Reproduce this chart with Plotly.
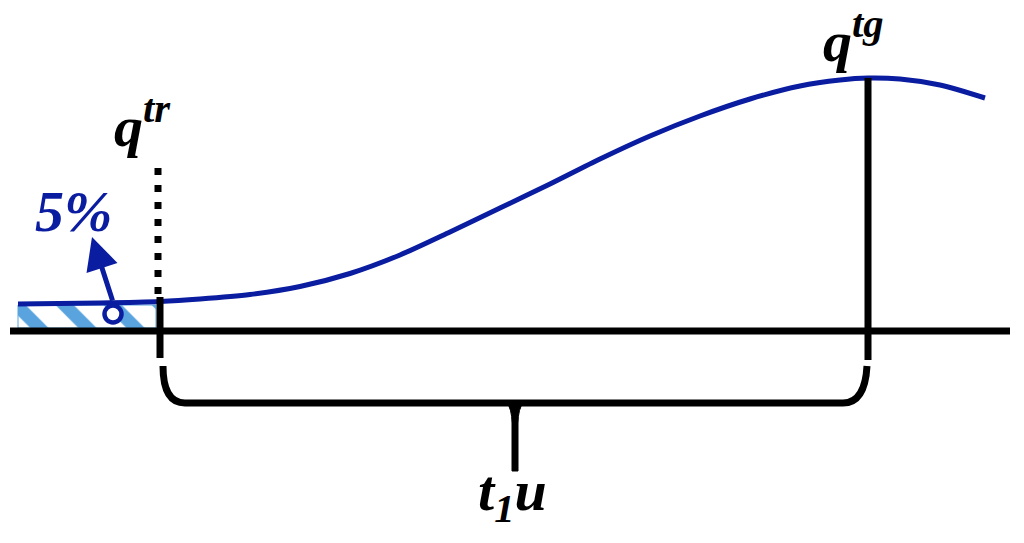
import plotly.graph_objects as go

# curve of the signal (page pixel coordinates, y grows downward)
curve_x = [18, 100, 160, 200, 250, 300, 350, 400, 450, 500, 550, 600, 650, 700, 750, 800, 840, 868, 900, 940, 985]
curve_y = [304, 303, 301.5, 299, 294.5, 286.5, 273.5, 255, 232, 208, 184, 159, 136, 116, 99, 86, 80, 78, 79, 85, 98]

# key positions of the sketch
x_tr = 160          # q^tr
x_tg = 868          # q^tg
base_y = 331        # time axis
flat_y = 304        # level before q^tr
circle_pt = (113, 314)
arrow_tip = (92, 237)
labels = ["<b><i>q<sup>tr</sup></i></b>", "<b><i>q<sup>tg</sup></i></b>", "<b><i>5%</i></b>", "<b><i>t<sub>1</sub>u</i></b>"]
label_x = [142, 853, 73, 512]
label_y = [122, 37, 211, 494]

blue = "#0a1ca0"
light_blue = "#59a4de"

fig = go.Figure()

# hatched 5% region
fig.add_trace(go.Bar(
    x=[(18 + 156) / 2], width=[156 - 18], base=[flat_y + 1], y=[base_y - flat_y - 4],
    marker=dict(color="white", line=dict(color=light_blue, width=1),
                pattern=dict(shape="\\", fgcolor=light_blue, fgopacity=1, bgcolor="white", size=34, solidity=0.38)),
    hoverinfo="skip"))

fig.add_trace(go.Scatter(x=curve_x, y=curve_y, mode="lines", line=dict(color=blue, width=5, shape="spline", smoothing=0.8),
                         hoverinfo="skip"))

shapes = []
blk = dict(color="black", width=7)
shapes.append(dict(type="line", x0=10, x1=1010, y0=base_y, y1=base_y, line=blk))
shapes.append(dict(type="line", x0=x_tr, x1=x_tr, y0=297, y1=358, line=blk))
shapes.append(dict(type="line", x0=x_tr - 2, x1=x_tr - 2, y0=168, y1=294, line=dict(color="black", width=7, dash="7px,10px")))
shapes.append(dict(type="line", x0=x_tg, x1=x_tg, y0=78, y1=360, line=blk))
# brace under the axis
by = 403
mid = 515
shapes.append(dict(type="path", path=f"M {x_tr + 3},366 Q {x_tr + 3},{by} {x_tr + 25},{by} L {x_tg - 25},{by} Q {x_tg - 3},{by} {x_tg - 1},366",
                   line=blk))
shapes.append(dict(type="path", path=f"M {mid - 9},{by - 2} Q {mid - 3},{by + 6} {mid - 3},{by + 20} L {mid - 3},471 L {mid + 3},471 L {mid + 3},{by + 20} Q {mid + 3},{by + 6} {mid + 9},{by - 2} Z",
                   fillcolor="black", line=dict(color="black", width=1)))

# circle marker on top
fig.add_trace(go.Scatter(x=[circle_pt[0]], y=[circle_pt[1]], mode="markers",
                         marker=dict(size=17, color="white", line=dict(color=blue, width=4.5)), hoverinfo="skip"))

annotations = [dict(x=arrow_tip[0], y=arrow_tip[1], ax=circle_pt[0], ay=circle_pt[1] - 12, xref="x", yref="y",
                    axref="x", ayref="y", text="", showarrow=True, arrowhead=2, arrowsize=1.3, arrowwidth=5,
                    arrowcolor=blue, standoff=0)]
for t, x, y in zip(labels, label_x, label_y):
    annotations.append(dict(x=x, y=y, xref="x", yref="y", text=t, showarrow=False,
                            font=dict(family="Liberation Serif", size=58, color=blue if "5%" in t else "black")))

fig.update_layout(
    width=1024, height=543,
    margin=dict(l=0, r=0, t=0, b=0),
    plot_bgcolor="white", paper_bgcolor="white",
    showlegend=False,
    xaxis=dict(range=[0, 1024], visible=False, fixedrange=True),
    yaxis=dict(range=[543, 0], visible=False, fixedrange=True),
    shapes=shapes, annotations=annotations,
)

fig.write_html("out.html", config={"displayModeBar": False}, post_script="document.body.style.margin='0';")
